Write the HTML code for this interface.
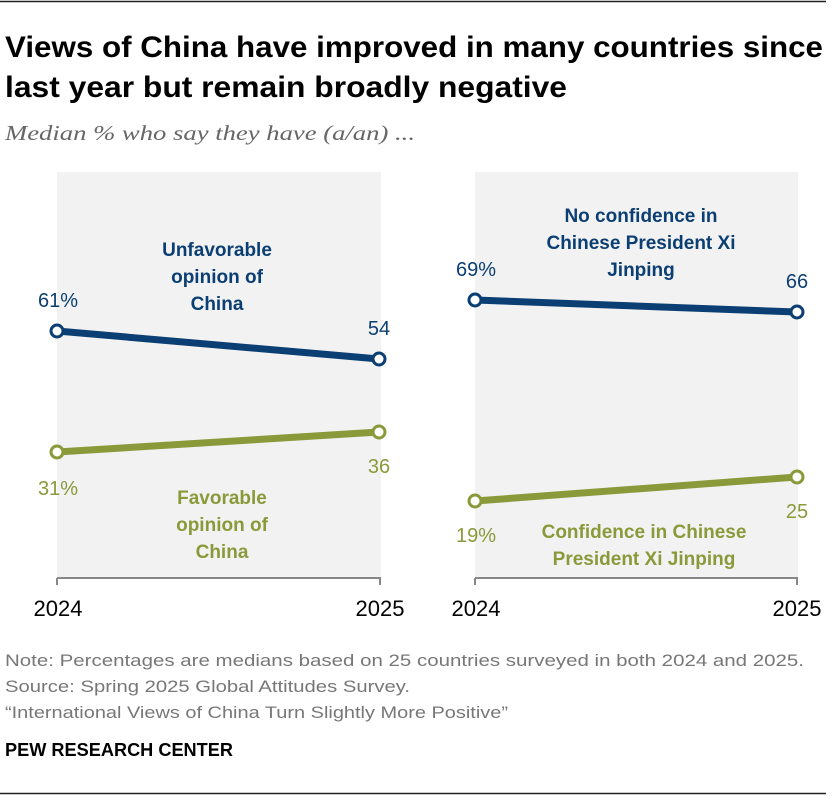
<!DOCTYPE html>
<html><head><meta charset="utf-8"><style>
body{margin:0;background:#fff;}
svg{display:block;}
</style></head><body>
<svg width="840" height="796" xmlns="http://www.w3.org/2000/svg">
<line x1="0" y1="1.5" x2="826" y2="1.5" stroke="#222" stroke-width="1.5"/>
<g font-family="Liberation Sans Narrow, Liberation Sans, sans-serif" font-weight="bold" font-size="30" fill="#000" lengthAdjust="spacingAndGlyphs">
<text x="5" y="57" textLength="818" lengthAdjust="spacingAndGlyphs">Views of China have improved in many countries since</text>
<text x="5" y="97" textLength="562" lengthAdjust="spacingAndGlyphs">last year but remain broadly negative</text>
</g>
<text x="5" y="140" font-family="Liberation Serif, serif" font-style="italic" font-size="21" fill="#666" textLength="410" lengthAdjust="spacingAndGlyphs">Median % who say they have (a/an) ...</text>

<rect x="57" y="172" width="324" height="406" fill="#f2f2f2"/>
<rect x="475" y="172" width="323" height="406" fill="#f2f2f2"/>
<g stroke="#888" stroke-width="2" fill="none">
<path d="M57 578 H381 M57 578 V585 M380 578 V585"/>
<path d="M475 578 H798 M475 578 V585 M797 578 V585"/>
</g>
<g font-family="Liberation Sans, sans-serif" font-size="22" fill="#000" text-anchor="middle">
<text x="58" y="616">2024</text><text x="380" y="616">2025</text>
<text x="476" y="616">2024</text><text x="797" y="616">2025</text>
</g>

<g stroke-width="7" fill="none">
<line x1="57" y1="331" x2="379" y2="359" stroke="#0b3f73"/>
<line x1="57" y1="452" x2="379" y2="432" stroke="#8a9a3a"/>
<line x1="475" y1="300" x2="797" y2="312" stroke="#0b3f73"/>
<line x1="475" y1="501" x2="797" y2="477" stroke="#8a9a3a"/>
</g>
<g fill="#fff" stroke-width="3">
<circle cx="57" cy="331" r="6" stroke="#0b3f73"/><circle cx="379" cy="359" r="6" stroke="#0b3f73"/>
<circle cx="57" cy="452" r="6" stroke="#8a9a3a"/><circle cx="379" cy="432" r="6" stroke="#8a9a3a"/>
<circle cx="475" cy="300" r="6" stroke="#0b3f73"/><circle cx="797" cy="312" r="6" stroke="#0b3f73"/>
<circle cx="475" cy="501" r="6" stroke="#8a9a3a"/><circle cx="797" cy="477" r="6" stroke="#8a9a3a"/>
</g>
<g font-family="Liberation Sans, sans-serif" font-size="20" text-anchor="middle">
<text x="58" y="307" fill="#0b3f73">61%</text>
<text x="379" y="335" fill="#0b3f73">54</text>
<text x="58" y="495" fill="#8a9a3a">31%</text>
<text x="379" y="473" fill="#8a9a3a">36</text>
<text x="476" y="276" fill="#0b3f73">69%</text>
<text x="797" y="288" fill="#0b3f73">66</text>
<text x="476" y="542" fill="#8a9a3a">19%</text>
<text x="797" y="518" fill="#8a9a3a">25</text>
</g>
<g font-family="Liberation Sans, sans-serif" font-weight="bold" font-size="19" text-anchor="middle">
<g fill="#0b3f73">
<text x="217" y="256">Unfavorable</text><text x="217" y="283">opinion of</text><text x="217" y="310">China</text>
<text x="641" y="222">No confidence in</text><text x="641" y="249">Chinese President Xi</text><text x="641" y="276">Jinping</text>
</g>
<g fill="#8a9a3a">
<text x="222" y="504">Favorable</text><text x="222" y="531">opinion of</text><text x="222" y="558">China</text>
<text x="644" y="538">Confidence in Chinese</text><text x="644" y="565">President Xi Jinping</text>
</g>
</g>

<g font-family="Liberation Sans Narrow, Liberation Sans, sans-serif" font-size="17" fill="#777">
<text x="5" y="666" textLength="799" lengthAdjust="spacingAndGlyphs">Note: Percentages are medians based on 25 countries surveyed in both 2024 and 2025.</text>
<text x="5" y="692" textLength="405" lengthAdjust="spacingAndGlyphs">Source: Spring 2025 Global Attitudes Survey.</text>
<text x="5" y="718" textLength="503" lengthAdjust="spacingAndGlyphs">“International Views of China Turn Slightly More Positive”</text>
</g>
<text x="5" y="756" font-family="Liberation Sans Narrow, Liberation Sans, sans-serif" font-weight="bold" font-size="18" fill="#000" textLength="228" lengthAdjust="spacingAndGlyphs">PEW RESEARCH CENTER</text>
<line x1="0" y1="793.5" x2="826" y2="793.5" stroke="#222" stroke-width="1.5"/>
</svg>
</body></html>
